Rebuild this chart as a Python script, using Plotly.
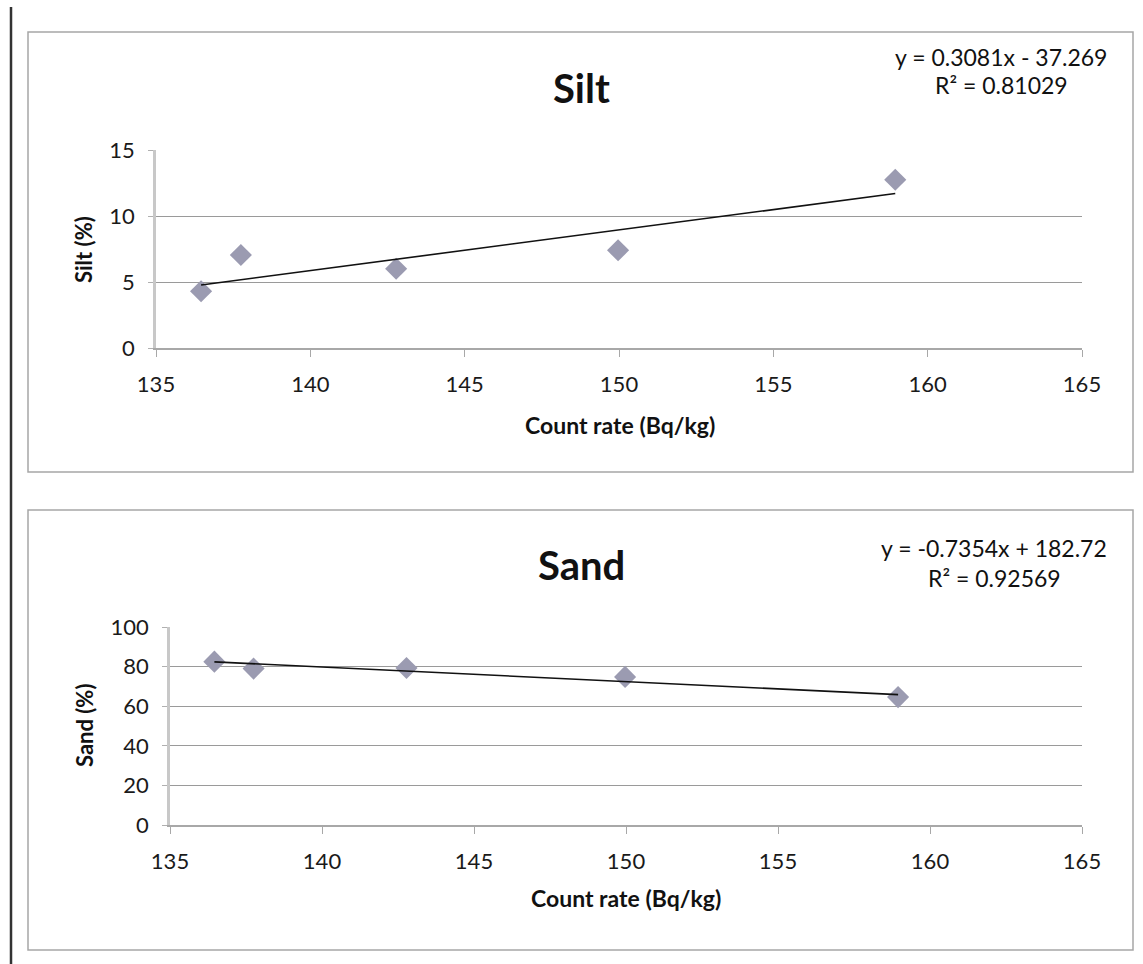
import plotly.graph_objects as go

# ---- data ----
count_rate = [136.46, 137.75, 142.78, 149.97, 158.95]
silt_pct = [4.3, 7.05, 6.0, 7.4, 12.75]
sand_pct = [82.5, 79.0, 79.3, 74.8, 64.6]

silt_slope, silt_intercept, silt_r2 = 0.3081, -37.269, 0.81029
sand_slope, sand_intercept, sand_r2 = -0.7354, 182.72, 0.92569

x_ticks = [135, 140, 145, 150, 155, 160, 165]
silt_ticks = [0, 5, 10, 15]
sand_ticks = [0, 20, 40, 60, 80, 100]

W, H = 1143, 964
FONT = "Lato"
MARKER_COLOR = "#9b9bb1"
GRID = "#9a9a9a"


def px_x(v):
    return v / W


def px_y(v):
    return 1 - v / H


fig = go.Figure()

tr_x = [min(count_rate), max(count_rate)]

fig.add_trace(go.Scatter(x=count_rate, y=silt_pct, mode="markers",
                         marker=dict(symbol="diamond", size=17, color=MARKER_COLOR),
                         xaxis="x", yaxis="y", showlegend=False))
fig.add_trace(go.Scatter(x=tr_x, y=[silt_slope * v + silt_intercept for v in tr_x],
                         mode="lines", line=dict(color="#111111", width=1.6),
                         xaxis="x", yaxis="y", showlegend=False))
fig.add_trace(go.Scatter(x=count_rate, y=sand_pct, mode="markers",
                         marker=dict(symbol="diamond", size=17, color=MARKER_COLOR),
                         xaxis="x2", yaxis="y2", showlegend=False))
fig.add_trace(go.Scatter(x=tr_x, y=[sand_slope * v + sand_intercept for v in tr_x],
                         mode="lines", line=dict(color="#111111", width=1.6),
                         xaxis="x2", yaxis="y2", showlegend=False))

tickfont = dict(family=FONT, size=22, color="#1a1a1a")
xax_common = dict(range=[135, 165], tickvals=x_ticks, showgrid=False, zeroline=False,
                  showline=True, linecolor="#a8a8a8", linewidth=1.5,
                  ticks="outside", ticklen=7, tickcolor="#a8a8a8", tickwidth=1.2,
                  ticklabelstandoff=9,
                  tickfont=tickfont, fixedrange=True, automargin=False)
yax_common = dict(showgrid=True, gridcolor=GRID, gridwidth=1, zeroline=False,
                  showline=True, linecolor="#c8c8c8", linewidth=2.5,
                  ticks="outside", ticklen=5, tickcolor="#b0b0b0", tickwidth=1,
                  ticklabelstandoff=9,
                  tickfont=tickfont, fixedrange=True, automargin=False)

fig.update_layout(
    width=W, height=H, margin=dict(l=0, r=0, t=0, b=0, autoexpand=False),
    paper_bgcolor="white", plot_bgcolor="white",
    xaxis=dict(domain=[px_x(156), px_x(1082)], anchor="y", **xax_common),
    yaxis=dict(domain=[px_y(348), px_y(150)], anchor="x", range=[0, 15],
               tickvals=silt_ticks, **yax_common),
    xaxis2=dict(domain=[px_x(170), px_x(1082)], anchor="y2", **xax_common),
    yaxis2=dict(domain=[px_y(825), px_y(627)], anchor="x2", range=[0, 100],
                tickvals=sand_ticks, **yax_common),
)

shapes = [
    dict(type="rect", xref="paper", yref="paper", x0=px_x(28), x1=px_x(1133),
         y0=px_y(472), y1=px_y(32), line=dict(color="#a6a6a6", width=1.5)),
    dict(type="rect", xref="paper", yref="paper", x0=px_x(28), x1=px_x(1133),
         y0=px_y(950), y1=px_y(510), line=dict(color="#a6a6a6", width=1.5)),
    dict(type="line", xref="paper", yref="paper", x0=px_x(11), x1=px_x(11),
         y0=0, y1=px_y(7), line=dict(color="#333333", width=2.5)),
]
fig.update_layout(shapes=shapes)


def ann(text, x, y, size, bold=False, angle=0):
    return dict(text=f"<b>{text}</b>" if bold else text, x=px_x(x), y=px_y(y),
                xref="paper", yref="paper", showarrow=False,
                xanchor="center", yanchor="middle", textangle=angle,
                font=dict(family=FONT, size=size, color="#111111"))


annotations = [
    ann("Silt", 581, 88, 40, bold=True),
    ann("Sand", 581, 565, 40, bold=True),
    ann(f"y = {silt_slope}x - {abs(silt_intercept)}", 1001, 57, 23),
    ann(f"R² = {silt_r2}", 1001, 85, 23),
    ann(f"y = {sand_slope}x + {sand_intercept}", 994, 548, 23),
    ann(f"R² = {sand_r2}", 994, 578, 23),
    ann("Silt (%)", 84, 250, 22, bold=True, angle=-90),
    ann("Sand (%)", 84, 726, 22, bold=True, angle=-90),
    ann("Count rate (Bq/kg)", 620, 425, 23, bold=True),
    ann("Count rate (Bq/kg)", 626, 898, 23, bold=True),
]
fig.update_layout(annotations=annotations)

fig.write_html("out.html")
